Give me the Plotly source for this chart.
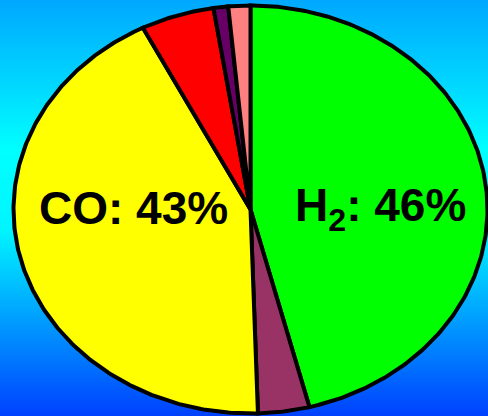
import numpy as np
import plotly.graph_objects as go

# Gas composition (percent), clockwise from 12 o'clock
gases = ["H2", "CH4", "CO", "CO2", "N2", "Other"]
shares = [46, 3.5, 43, 5, 1, 1.5]
colors = ["#00FF00", "#993366", "#FFFF00", "#FF0000", "#660066", "#FF8080"]
labels = {"H2": "H<sub>2</sub>: 46%", "CO": "CO: 43%"}

W, H = 488, 416
cx, cy = 250.5, 209.5      # pie centre (px)
rx, ry = 237.0, 204.0      # horizontal / vertical radii (stretched pie)

fig = go.Figure()

# Vertical background gradient
bg_y = np.linspace(0, H, 60)
fig.add_trace(go.Heatmap(
    x=[0, W], y=bg_y, z=[[v, v] for v in bg_y],
    colorscale=[
        [0.00, "rgb(0,168,255)"],
        [0.20, "rgb(0,215,255)"],
        [0.36, "rgb(0,255,255)"],
        [0.55, "rgb(0,245,255)"],
        [0.75, "rgb(0,165,255)"],
        [1.00, "rgb(0,64,255)"],
    ],
    showscale=False, zsmooth="best", hoverinfo="skip",
))

total = float(sum(shares))
start = 0.0
for name, val, col in zip(gases, shares, colors):
    a0 = start / total * 2 * np.pi
    a1 = (start + val) / total * 2 * np.pi
    t = np.linspace(a0, a1, max(8, int(val * 6)))
    xs = np.concatenate([[cx], cx + rx * np.sin(t), [cx]])
    ys = np.concatenate([[cy], cy - ry * np.cos(t), [cy]])
    fig.add_trace(go.Scatter(
        x=xs, y=ys, mode="lines", fill="toself", fillcolor=col,
        line=dict(color="black", width=4), name=name,
        hoverinfo="name", showlegend=False,
    ))
    start += val

font = dict(family="Liberation Sans, Arial, sans-serif", size=46, color="black")
fig.add_annotation(x=133, y=208, text="<b>" + labels["CO"] + "</b>",
                   showarrow=False, font=font, xanchor="center", yanchor="middle")
fig.add_annotation(x=380, y=208, text="<b>" + labels["H2"] + "</b>",
                   showarrow=False, font=font, xanchor="center", yanchor="middle")

fig.update_xaxes(range=[0, W], visible=False, fixedrange=True)
fig.update_yaxes(range=[H, 0], visible=False, fixedrange=True)
fig.update_layout(
    width=W, height=H, margin=dict(l=0, r=0, t=0, b=0),
    paper_bgcolor="rgb(0,200,255)", plot_bgcolor="rgba(0,0,0,0)",
)

fig.write_html("out.html", config={"displayModeBar": False})
